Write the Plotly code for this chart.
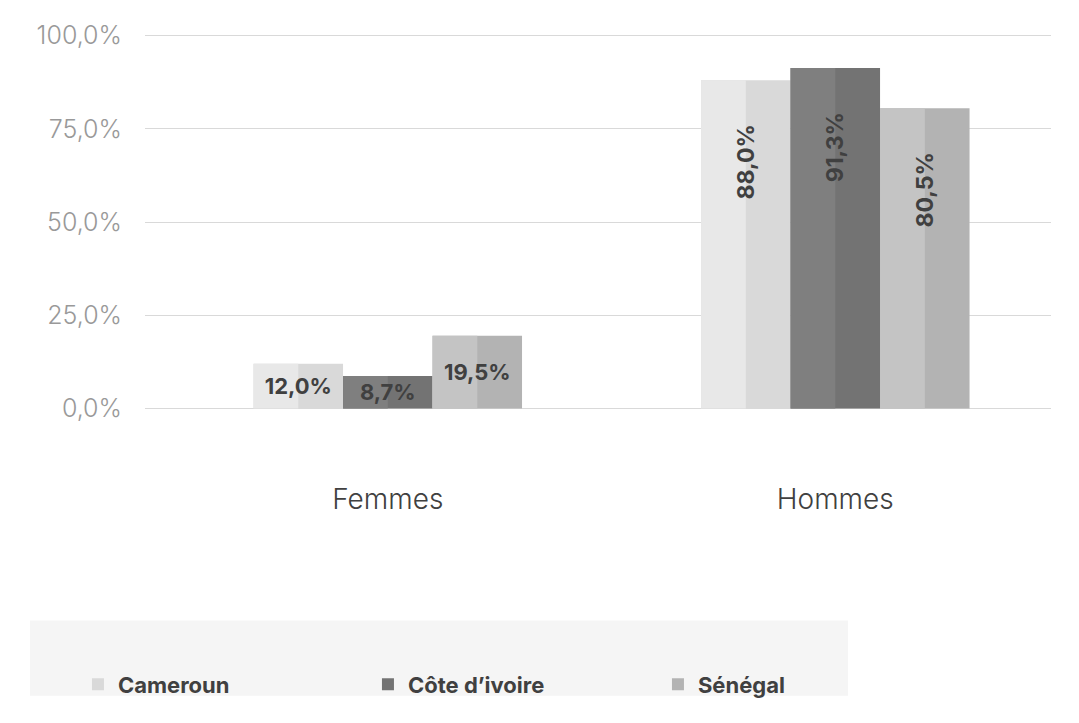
"""
    Grouped bar chart - Femmes / Hommes by country
"""
import plotly.graph_objects as go

# Data
categories = ['Femmes', 'Hommes']
countries = ['Cameroun', "Côte d’ivoire", 'Sénégal']
cameroun = [12.0, 88.0]
cote_divoire = [8.7, 91.3]
senegal = [19.5, 80.5]
y_ticks = [0, 25, 50, 75, 100]

# Styling
dark_colors = ['#d9d9d9', '#737373', '#b3b3b3']
light_colors = ['#e8e8e8', '#7f7f7f', '#c4c4c4']
font = 'Inter'
label_color = '#404040'


def fmt(v):
    return f"{v:.1f}%".replace('.', ',')


def main():
    values = [cameroun, cote_divoire, senegal]
    bar_w = 0.2
    x_range = [-0.5425, 1.482]
    plot_w = 1079 - 137 - 36
    px_per_cat = plot_w / (x_range[1] - x_range[0])
    label_font = dict(family=font, size=22, color=label_color, weight='bold')
    fig = go.Figure()

    for i, name in enumerate(countries):
        offset = -0.3 + bar_w * i
        # full bar (darker right half shows through)
        fig.add_trace(go.Bar(
            x=categories, y=values[i], width=bar_w, offset=offset,
            marker=dict(color=dark_colors[i], line=dict(width=0)),
            name=name, legendgroup=name, hoverinfo='skip'))
        # lighter left half
        fig.add_trace(go.Bar(
            x=categories, y=values[i], width=bar_w / 2, offset=offset,
            marker=dict(color=light_colors[i], line=dict(width=0)),
            legendgroup=name, showlegend=False, hoverinfo='skip'))
        # transparent bar carrying the horizontal label (Femmes)
        fig.add_trace(go.Bar(
            x=categories[:1], y=values[i][:1], width=bar_w, offset=offset,
            marker=dict(color='rgba(0,0,0,0)', line=dict(width=0)),
            texttemplate='%{y:.1f}%', textposition='inside',
            insidetextanchor='middle', textangle=0, constraintext='none',
            insidetextfont=label_font,
            legendgroup=name, showlegend=False, name=name))
        # vertical labels (Hommes)
        for j in range(1, len(categories)):
            fig.add_annotation(
                x=categories[j], y=values[i][j], text=fmt(values[i][j]),
                showarrow=False, textangle=-90, yanchor='top',
                xshift=(offset + bar_w / 2) * px_per_cat, yshift=-42,
                font=dict(family=font, size=23, color=label_color, weight='bold'))

    # legend background box
    fig.add_shape(type='rect', xref='paper', yref='paper',
                  x0=-0.127, x1=0.776, y0=-0.76, y1=-0.56,
                  fillcolor='#f5f5f5', line=dict(width=0), layer='below')

    fig.update_layout(
        barmode='overlay',
        separators=',.',
        width=1079, height=723,
        margin=dict(l=137, r=36, t=20, b=321),
        plot_bgcolor='white', paper_bgcolor='white',
        font=dict(family=font, color=label_color),
        showlegend=True,
        legend=dict(orientation='h', x=-0.074, y=-0.73, yanchor='middle',
                    xanchor='left', bgcolor='rgba(0,0,0,0)',
                    entrywidth=245, entrywidthmode='pixels',
                    font=dict(family=font, size=22, color=label_color, weight='bold'),
                    itemclick=False, itemdoubleclick=False),
    )
    fig.update_yaxes(range=[-0.4, 100.4], tickvals=y_ticks,
                     ticktext=[fmt(v) for v in y_ticks],
                     showgrid=True, gridcolor='#d9d9d9', gridwidth=1,
                     zeroline=False, showline=False, ticks='',
                     ticklabelstandoff=22,
                     tickfont=dict(family=font, size=25, color='#999999', weight=300))
    fig.update_xaxes(range=x_range, showline=False, ticks='', ticklabelstandoff=70,
                     tickfont=dict(family=font, size=28, color=label_color, weight=300))

    fig.write_html('out.html')


if __name__ == "__main__":
    main()
